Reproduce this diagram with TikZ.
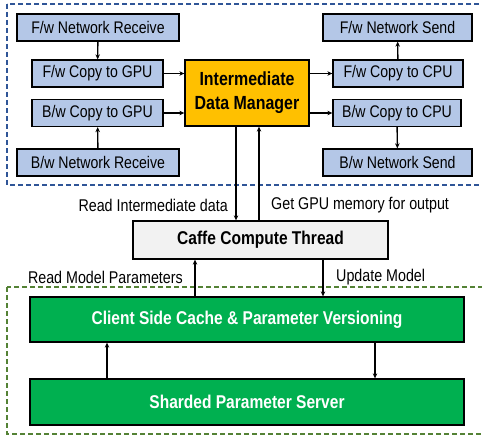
\documentclass[tikz,border=0pt]{standalone}
\usepackage{fontspec}
\setmainfont[FakeStretch=0.84]{Liberation Sans}
\usetikzlibrary{arrows.meta}
\definecolor{boxblue}{HTML}{B4C7E7}
\definecolor{mgrgold}{HTML}{FFC000}
\definecolor{psgreen}{HTML}{00B050}
\definecolor{lineblue}{HTML}{2F5597}
\definecolor{linegreen}{HTML}{548235}
\begin{document}
\begin{tikzpicture}[x=1pt, y=-1pt,
  >={Stealth[length=5pt,width=4.5pt]},
  flow/.style={->, line width=1.4pt},
  io/.style={draw, line width=1.3pt, fill=boxblue, minimum height=27pt, inner sep=0pt, font=\fontsize{16.8}{19}\selectfont},
  bigbox/.style={draw, line width=1.3pt, inner sep=0pt, font=\fontsize{18.5}{21}\selectfont\bfseries},
  tag/.style={inner sep=0pt, font=\fontsize{17}{19}\selectfont}]
\useasboundingbox (0,0) rectangle (482,436);
% dashed regions
\draw[lineblue, line width=1.2pt, dash pattern=on 5pt off 3pt] (7,4) rectangle (486,185);
\draw[linegreen, line width=1.2pt, dash pattern=on 5pt off 3pt] (7,287) rectangle (486,434);

\node[io, minimum width=162pt] (FW Recv) at (98,27.5) {F/w Network Receive};
\node[io, minimum width=131pt] (FW GPU) at (97.5,73.5) {F/w Copy to GPU};
\node[io, minimum width=131pt] (BW GPU) at (97.5,113) {B/w Copy to GPU};
\node[io, minimum width=162pt] (BW Recv) at (98,162.5) {B/w Network Receive};

\node[bigbox, fill=mgrgold, minimum width=124pt, minimum height=66pt, align=center,
  font=\fontsize{19}{24}\selectfont\bfseries] (IDM) at (247,93) {Intermediate\\Data Manager};

\node[io, minimum width=149pt] (FW Send) at (397.5,27.5) {F/w Network Send};
\node[io, minimum width=130pt] (FW CPU) at (398,73.5) {F/w Copy to CPU};
\node[io, minimum width=128pt] (BW CPU) at (397,113) {B/w Copy to CPU};
\node[io, minimum width=149pt] (BW Send) at (397.5,162.5) {B/w Network Send};

\node[bigbox, fill=black!5, minimum width=255pt, minimum height=38pt] (Caffe) at (260.5,240) {Caffe Compute Thread};
\node[bigbox, fill=psgreen, text=white, minimum width=434pt, minimum height=45pt] (Cache) at (247,319.5) {Client Side Cache \& Parameter Versioning};
\node[bigbox, fill=psgreen, text=white, minimum width=434pt, minimum height=46pt] (Server) at (247,402) {Sharded Parameter Server};

\node[tag, anchor=east] (Read Data) at (228,205) {Read Intermediate data};
\node[tag, anchor=west] (Get Mem) at (271,205) {Get GPU memory for output};
\node[tag, anchor=east] (Read Params) at (183,277) {Read Model Parameters};
\node[tag, anchor=west] (Update) at (336,277) {Update Model};

\draw[flow] (FW Recv) -- (FW GPU);
\draw[flow] (BW Recv) -- (BW GPU);
\draw[flow] (FW GPU) -- (FW GPU -| IDM.west);
\draw[flow] (BW GPU) -- (BW GPU -| IDM.west);
\draw[flow] (FW CPU -| IDM.east) -- (FW CPU);
\draw[flow] (BW CPU -| IDM.east) -- (BW CPU);
\draw[flow] (FW CPU) -- (FW Send);
\draw[flow] (BW CPU) -- (BW Send);

\draw[flow] ([xshift=-11pt]IDM.south) -- ([xshift=-24.5pt]Caffe.north);
\draw[flow] ([xshift=-1.5pt]Caffe.north) -- ([xshift=12pt]IDM.south);
\draw[flow] ([xshift=-52pt]Cache.north) -- ([xshift=-65.5pt]Caffe.south);
\draw[flow] ([xshift=62.5pt]Caffe.south) -- ([xshift=76pt]Cache.north);
\draw[flow] ([xshift=-140pt]Server.north) -- ([xshift=-140pt]Cache.south);
\draw[flow] ([xshift=128pt]Cache.south) -- ([xshift=128pt]Server.north);

\end{tikzpicture}
\end{document}
